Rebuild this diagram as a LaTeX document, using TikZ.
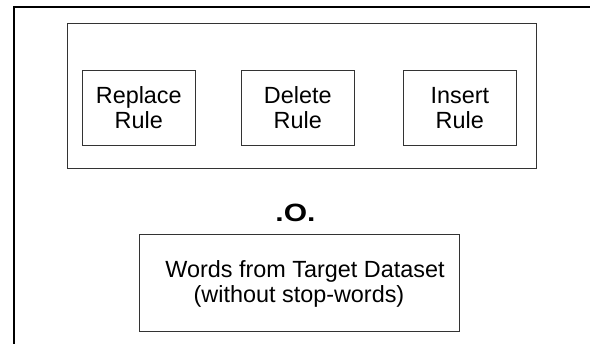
\documentclass[tikz,border=0pt]{standalone}
\usepackage{fontspec}
\setmainfont{Liberation Sans}
\begin{document}
\begin{tikzpicture}[x=1pt,y=-1pt,
  box/.style={draw=black!80, line width=1pt, rectangle, inner sep=0pt,
    align=center, font=\fontsize{23.4}{25}\selectfont},
  rulebox/.style={box, minimum width=112.5pt, minimum height=75pt}]
  \useasboundingbox (0,0) rectangle (590,344);
  % outer frame
  \draw[line width=1.2pt, black] (14,344) -- (14,7) -- (590,7);
  % container of the three rules
  \node[box, minimum width=469pt, minimum height=145pt] (rules) at (301.5,96.5) {};
  \node[rulebox] (replace) at (138.8,107.8) {Replace\\Rule};
  \node[rulebox] (delete)  at (297.8,107.8) {Delete\\Rule};
  \node[rulebox] (insert)  at (459.8,107.8) {Insert\\Rule};
  % composition operator
  \node[font=\bfseries\fontsize{25}{27}\selectfont, inner sep=0pt, xscale=1.2]
    (comp) at (295.5,213) {.O.};
  % target words
  \node[box, minimum width=320pt, minimum height=97pt] (words) at (299,283.5)
    {\hspace{12pt}Words from Target Dataset\\(without stop-words)};
\end{tikzpicture}
\end{document}
